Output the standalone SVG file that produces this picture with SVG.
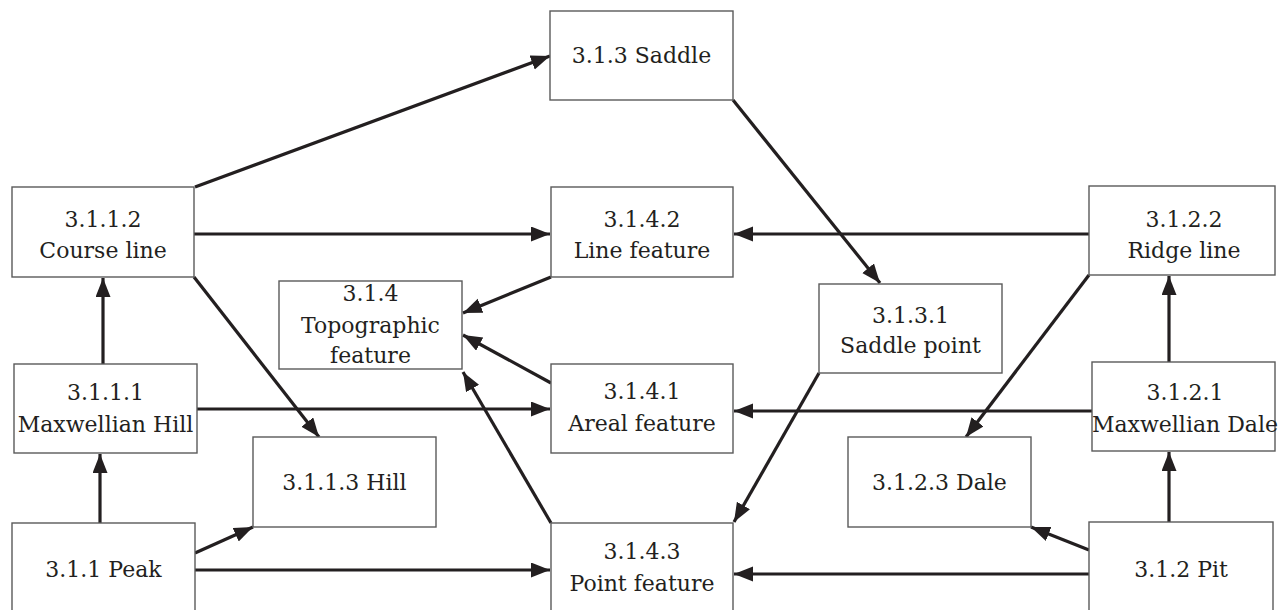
<svg xmlns="http://www.w3.org/2000/svg" width="1280" height="610" viewBox="0 0 1280 610">
<defs>
<marker id="ah" markerUnits="userSpaceOnUse" markerWidth="22" markerHeight="16" refX="19" refY="7.5" orient="auto">
<path d="M0,0 L19,7.5 L0,15 z" fill="#231f20"/>
</marker>
<style>
.box{fill:#fff;stroke:#5a5a5a;stroke-width:1.4}
.t{font-family:"DejaVu Serif","Liberation Serif",serif;font-size:22px;fill:#231f20;text-anchor:middle}
.c{stroke:#231f20;stroke-width:3.2;fill:none;marker-end:url(#ah)}
</style>
</defs>
<rect width="1280" height="610" fill="#fff"/>
<g id="connectors">
<line class="c" x1="195" y1="187" x2="550" y2="56"/>
<line class="c" x1="733" y1="100" x2="880" y2="283"/>
<line class="c" x1="1089" y1="234" x2="734" y2="234"/>
<line class="c" x1="194" y1="234" x2="550" y2="234"/>
<line class="c" x1="551" y1="277" x2="463" y2="313"/>
<line class="c" x1="551" y1="383" x2="463" y2="335"/>
<line class="c" x1="551" y1="523" x2="463" y2="372"/>
<line class="c" x1="197" y1="409" x2="550" y2="409"/>
<line class="c" x1="1092" y1="411" x2="734" y2="411"/>
<line class="c" x1="194" y1="277" x2="319" y2="437"/>
<line class="c" x1="103" y1="364" x2="103" y2="278"/>
<line class="c" x1="100" y1="523" x2="100" y2="454"/>
<line class="c" x1="195" y1="553" x2="253" y2="527"/>
<line class="c" x1="195" y1="570" x2="550" y2="570"/>
<line class="c" x1="1089" y1="574" x2="734" y2="574"/>
<line class="c" x1="819" y1="373" x2="734" y2="522"/>
<line class="c" x1="1089" y1="275" x2="966" y2="437"/>
<line class="c" x1="1169" y1="362" x2="1169" y2="276"/>
<line class="c" x1="1169" y1="522" x2="1169" y2="452"/>
<line class="c" x1="1089" y1="550" x2="1031" y2="527"/>
</g>
<g id="saddle"><rect class="box" x="550" y="11" width="183" height="89"/><text class="t" x="641.5" y="63">3.1.3 Saddle</text></g>
<g id="course-line"><rect class="box" x="12" y="187" width="182" height="90"/><text class="t" x="103" y="227">3.1.1.2</text><text class="t" x="103" y="258">Course line</text></g>
<g id="line-feature"><rect class="box" x="551" y="187" width="182" height="90"/><text class="t" x="642" y="227">3.1.4.2</text><text class="t" x="642" y="258">Line feature</text></g>
<g id="ridge-line"><rect class="box" x="1089" y="186" width="186" height="89"/><text class="t" x="1184" y="227">3.1.2.2</text><text class="t" x="1184" y="258">Ridge line</text></g>
<g id="topographic-feature"><rect class="box" x="279" y="281" width="183" height="88"/><text class="t" x="370.5" y="301">3.1.4</text><text class="t" x="370.5" y="333">Topographic</text><text class="t" x="370.5" y="363">feature</text></g>
<g id="saddle-point"><rect class="box" x="819" y="284" width="183" height="89"/><text class="t" x="910.5" y="323">3.1.3.1</text><text class="t" x="910.5" y="353">Saddle point</text></g>
<g id="maxwellian-hill"><rect class="box" x="14" y="364" width="183" height="89"/><text class="t" x="105.5" y="400">3.1.1.1</text><text class="t" x="105.5" y="432">Maxwellian Hill</text></g>
<g id="areal-feature"><rect class="box" x="551" y="364" width="182" height="89"/><text class="t" x="642" y="399">3.1.4.1</text><text class="t" x="642" y="431">Areal feature</text></g>
<g id="maxwellian-dale"><rect class="box" x="1092" y="362" width="183" height="89"/><text class="t" x="1185" y="400">3.1.2.1</text><text class="t" x="1185" y="432">Maxwellian Dale</text></g>
<g id="hill"><rect class="box" x="253" y="437" width="183" height="90"/><text class="t" x="344.5" y="490">3.1.1.3 Hill</text></g>
<g id="dale"><rect class="box" x="848" y="437" width="183" height="90"/><text class="t" x="939.5" y="490">3.1.2.3 Dale</text></g>
<g id="peak"><rect class="box" x="12" y="523" width="183" height="92"/><text class="t" x="103.5" y="577">3.1.1 Peak</text></g>
<g id="point-feature"><rect class="box" x="551" y="523" width="182" height="92"/><text class="t" x="642" y="559">3.1.4.3</text><text class="t" x="642" y="591">Point feature</text></g>
<g id="pit"><rect class="box" x="1089" y="522" width="184" height="93"/><text class="t" x="1181" y="577">3.1.2 Pit</text></g>
</svg>
